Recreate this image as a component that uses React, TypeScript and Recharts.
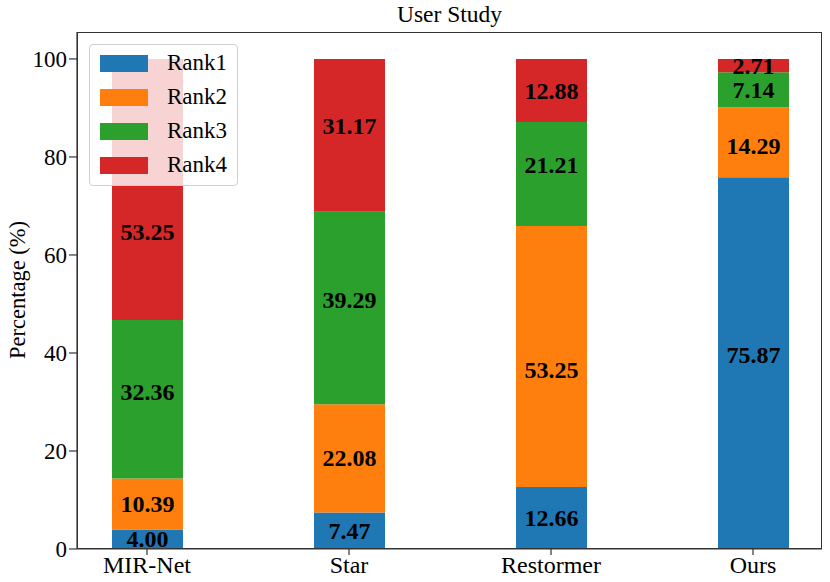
import React from 'react'
import { Bar, BarChart, LabelList, XAxis, YAxis } from 'recharts'

const methods = ['MIR-Net', 'Star', 'Restormer', 'Ours']
const rank1 = [4.0, 7.47, 12.66, 75.87]
const rank2 = [10.39, 22.08, 53.25, 14.29]
const rank3 = [32.36, 39.29, 21.21, 7.14]
const rank4 = [53.25, 31.17, 12.88, 2.71]
const yTicks = [0, 20, 40, 60, 80, 100]

// where each value label sits (in % units); null = middle of the segment
const rank1LabelAt = [null, null, null, 39.5]
const rank2LabelAt = [null, null, 36.6, 82.3]
const rank3LabelAt = [32.0, 50.8, 78.3, null]
const rank4LabelAt = [64.6, 86.3, null, null]

const series = [
  { key: 'rank1', name: 'Rank1', color: '#1f77b4', labelAt: rank1LabelAt },
  { key: 'rank2', name: 'Rank2', color: '#ff7f0e', labelAt: rank2LabelAt },
  { key: 'rank3', name: 'Rank3', color: '#2ca02c', labelAt: rank3LabelAt },
  { key: 'rank4', name: 'Rank4', color: '#d62728', labelAt: rank4LabelAt },
]

const data = methods.map((m, i) => ({
  x: i,
  name: m,
  rank1: rank1[i],
  rank2: rank2[i],
  rank3: rank3[i],
  rank4: rank4[i],
}))

const FONT = '"Liberation Serif", "Times New Roman", serif'
const AXIS = '#333'

function segLabel(sIdx: number) {
  return (props: any) => {
    const { x, y, width, height, index, value } = props
    const s = series[sIdx]
    let base = 0
    for (let k = 0; k < sIdx; k++) base += (data[index] as any)[series[k].key]
    const top = base + Number(value)
    const at = s.labelAt[index]
    const frac = at == null ? 0.5 : (top - at) / (top - base)
    return (
      <text
        x={x + width / 2}
        y={y + height * frac}
        textAnchor="middle"
        dominantBaseline="central"
        style={{ fontSize: 24, fontWeight: 700, fill: '#000', fontFamily: FONT }}
      >
        {Number(value).toFixed(2)}
      </text>
    )
  }
}

export default function App() {
  return (
    <div style={{ position: 'fixed', left: 0, top: 0, width: 830, height: 582, background: '#fff', fontFamily: FONT }}>
      <BarChart
        width={830}
        height={582}
        data={data}
        margin={{ top: 32, right: 8, left: 0, bottom: 0 }}
      >
        <XAxis
          dataKey="x"
          type="number"
          domain={[-0.3465, 3.3415]}
          ticks={[0, 1, 2, 3]}
          tickFormatter={(v: number) => methods[v] ?? ''}
          allowDataOverflow
          height={33}
          tickSize={6}
          tickMargin={1}
          stroke={AXIS}
          strokeWidth={1.2}
          tick={{ fontSize: 24, fill: '#000', fontFamily: FONT }}
        />
        <YAxis
          type="number"
          domain={[0, 105.5]}
          ticks={yTicks}
          allowDataOverflow
          width={77}
          tickSize={8}
          tickMargin={2}
          stroke={AXIS}
          strokeWidth={1.2}
          tick={{ fontSize: 23, fill: '#000', fontFamily: FONT }}
        />
        {series.map((s, si) => (
          <Bar key={s.key} dataKey={s.key} name={s.name} stackId="a" fill={s.color} barSize={71} isAnimationActive={false}>
            <LabelList dataKey={s.key} content={segLabel(si)} />
          </Bar>
        ))}
      </BarChart>

      {/* frame: top and right spines */}
      <div style={{ position: 'absolute', left: 77, top: 32, width: 745, height: 517, border: `1.2px solid ${AXIS}`, boxSizing: 'border-box', pointerEvents: 'none' }} />

      <div style={{ position: 'absolute', left: 77, width: 745, top: 0, textAlign: 'center', fontSize: 23.5, lineHeight: '28px' }}>User Study</div>

      <div
        style={{
          position: 'absolute', left: 18, top: 290, fontSize: 22.5, whiteSpace: 'nowrap',
          transform: 'translate(-50%, -50%) rotate(-90deg)',
        }}
      >
        Percentage (%)
      </div>

      <div
        style={{
          position: 'absolute', left: 89, top: 44, width: 149, height: 142, boxSizing: 'border-box',
          background: 'rgba(255,255,255,0.8)', border: '1px solid #d0d0d0', borderRadius: 4,
          padding: '1px 0 0 10px',
        }}
      >
        {series.map((s) => (
          <div key={s.key} style={{ display: 'flex', alignItems: 'center', height: 34 }}>
            <span style={{ width: 48, height: 17, background: s.color, display: 'inline-block' }} />
            <span style={{ marginLeft: 19, fontSize: 23, lineHeight: '34px' }}>{s.name}</span>
          </div>
        ))}
      </div>
    </div>
  )
}
